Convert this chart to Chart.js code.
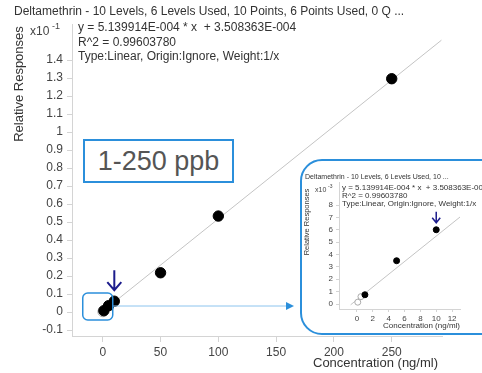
<!DOCTYPE html>
<html>
<head>
<meta charset="utf-8">
<script src="https://cdn.jsdelivr.net/npm/chart.js@4"></script>
<style>
  body { margin: 0; background: #fff; }
  #wrap { position: relative; width: 482px; height: 373px; overflow: hidden; }
  #main { position: absolute; left: 0; top: 0; }
  #range {
    position: absolute; left: 83px; top: 139px; width: 147px; height: 40px;
    border: 2px solid #2b8fdb; background: #fff; color: #555;
    font: 27px 'Liberation Sans', Arial, sans-serif; line-height: 40px; text-align: center;
  }
  #inset {
    position: absolute; left: 300px; top: 159px; width: 200px; height: 172px;
    border: 2px solid #2b8fdb; border-radius: 22px; background: #fff; overflow: hidden;
  }
  #insetChart { position: absolute; left: 0; top: 0; }
</style>
</head>
<body>
<div id="wrap">
  <canvas id="main" width="482" height="373"></canvas>
  <div id="range">1-250 ppb</div>
  <div id="inset"><canvas id="insetChart" width="180" height="172"></canvas></div>
</div>
<script>
// calibration levels used (ng/ml) and their relative responses
const concentrations = [1, 5, 10, 50, 100, 250];
const responses = [0.00075, 0.0035, 0.006, 0.0218, 0.0533, 0.1296];
// levels that were not used (open markers)
const excludedConc = [0.1, 0.5];
const excludedResp = [0.00015, 0.0006];
// fitted line end points, main chart and zoomed chart
const fitConc = [0, 293];
const fitResp = [0.00035, 0.1510];
const insetFitConc = [-0.8, 13];
const insetFitResp = [-0.00006, 0.00703];
// tick labels
const mainXTicks = [0, 50, 100, 150, 200, 250];
const mainYTicks = [-0.1, 0, 0.1, 0.2, 0.3, 0.4, 0.5, 0.6, 0.7, 0.8, 0.9, 1, 1.1, 1.2, 1.3, 1.4];
const insetXTicks = [0, 2, 4, 6, 8, 10, 12];
const insetYTicks = [0, 1, 2, 3, 4, 5, 6, 7, 8];

const titleText = 'Deltamethrin - 10 Levels, 6 Levels Used, 10 Points, 6 Points Used, 0 Q ...';
const insetTitleText = 'Deltamethrin - 10 Levels, 6 Levels Used, 10 ...';
const eqLines = ['y = 5.139914E-004 * x  + 3.508363E-004', 'R^2 = 0.99603780', 'Type:Linear, Origin:Ignore, Weight:1/x'];

Chart.defaults.font.family = "'Liberation Sans', Arial, sans-serif";
Chart.defaults.color = '#444';

const FONT = "'Liberation Sans', Arial, sans-serif";
const NAVY = '#1c1c8c';
const BLUE = '#2b8fdb';

function toPoints(xs, ys, factor) {
    return xs.map((x, i) => ({ x: x, y: ys[i] * factor }));
}

const overlayPlugin = {
    id: 'overlay',
    afterDraw(chart, args, opts) {
        const ctx = chart.ctx;
        const xs = chart.scales.x, ys = chart.scales.y;
        ctx.save();

        // callout box round the origin, with the pointer to the zoomed chart
        if (opts.callout) {
            const c = opts.callout;
            const x0 = xs.getPixelForValue(0), y0 = ys.getPixelForValue(0);
            const bx = x0 - 20, by = y0 - 19, bw = 30, bh = 27;
            ctx.strokeStyle = '#8cc4ee';
            ctx.lineWidth = 1;
            ctx.beginPath();
            ctx.moveTo(bx + bw, by + 13);
            ctx.lineTo(c.toX, by + 13);
            ctx.stroke();
            ctx.fillStyle = BLUE;
            ctx.beginPath();
            ctx.moveTo(c.toX, by + 9);
            ctx.lineTo(c.toX + 8, by + 13);
            ctx.lineTo(c.toX, by + 17);
            ctx.closePath();
            ctx.fill();
            ctx.strokeStyle = BLUE;
            ctx.lineWidth = 1.5;
            ctx.beginPath();
            ctx.roundRect(bx, by, bw, bh, 5);
            ctx.stroke();
        }

        // arrow pointing at the 10 ng/ml level
        if (opts.arrow) {
            const a = opts.arrow;
            const px = xs.getPixelForValue(a.x);
            const tip = ys.getPixelForValue(a.y) - a.gap;
            ctx.strokeStyle = NAVY;
            ctx.lineWidth = a.width;
            ctx.beginPath();
            ctx.moveTo(px, tip - a.len);
            ctx.lineTo(px, tip);
            ctx.moveTo(px - a.head, tip - a.head - 1);
            ctx.lineTo(px, tip);
            ctx.lineTo(px + a.head, tip - a.head - 1);
            ctx.stroke();
        }

        (opts.texts || []).forEach(t => {
            ctx.font = t.font;
            ctx.fillStyle = t.color || '#333';
            ctx.textAlign = t.align || 'left';
            ctx.textBaseline = 'middle';
            if (t.rotate) {
                ctx.save();
                ctx.translate(t.x, t.y);
                ctx.rotate(-Math.PI / 2);
                ctx.textAlign = 'center';
                ctx.fillText(t.text, 0, 0);
                ctx.restore();
            } else {
                ctx.fillText(t.text, t.x, t.y);
            }
        });
        ctx.restore();
    }
};

function axisOptions(min, max, ticks, size, tickLen, pad, fit) {
    return {
        type: 'linear',
        min: min,
        max: max,
        afterBuildTicks: s => { s.ticks = ticks.map(v => ({ value: v })); },
        afterFit: fit,
        grid: { drawOnChartArea: false, drawTicks: true, tickLength: tickLen, color: '#d4d4d4' },
        border: { color: '#d4d4d4' },
        ticks: {
            autoSkip: false,
            maxRotation: 0,
            padding: pad,
            font: { size: size },
            color: '#444',
            callback: v => String(Number(v.toFixed(1)))
        }
    };
}

function buildDatasets(factor, fitXs, fitYs, radius, openRadius) {
    return [
        {
            data: toPoints(concentrations, responses, factor),
            backgroundColor: '#000',
            borderColor: '#000',
            pointRadius: radius,
            order: 1
        },
        {
            data: toPoints(excludedConc, excludedResp, factor),
            backgroundColor: '#fff',
            borderColor: '#aaa',
            borderWidth: 1,
            pointRadius: openRadius,
            order: 2
        },
        {
            data: toPoints(fitXs, fitYs, factor),
            showLine: true,
            borderColor: '#c4c4c4',
            borderWidth: 1,
            pointRadius: 0,
            order: 3
        }
    ];
}

new Chart(document.getElementById('main'), {
    type: 'scatter',
    data: { datasets: buildDatasets(10, fitConc, fitResp, 5.2, 5) },
    options: {
        responsive: false,
        animation: false,
        layout: { padding: { top: 24, right: 40, left: 0, bottom: 0 } },
        plugins: {
            legend: { display: false },
            tooltip: { enabled: false },
            overlay: {
                callout: { toX: 286 },
                arrow: { x: 10, y: 0.06, gap: 11, len: 20, head: 7, width: 2 },
                texts: [
                    { text: titleText, x: 14, y: 12, font: '12px ' + FONT },
                    { text: 'x10', x: 30, y: 32, font: '12px ' + FONT, color: '#444' },
                    { text: '-1', x: 52, y: 27, font: '9px ' + FONT, color: '#444' },
                    { text: eqLines[0], x: 78, y: 28, font: '12px ' + FONT },
                    { text: eqLines[1], x: 78, y: 43, font: '12px ' + FONT },
                    { text: eqLines[2], x: 78, y: 57, font: '12px ' + FONT },
                    { text: 'Relative Responses', x: 19, y: 84, font: '13px ' + FONT, rotate: true },
                    { text: 'Concentration (ng/ml)', x: 438, y: 363, font: '13px ' + FONT, align: 'right' }
                ]
            }
        },
        scales: {
            x: axisOptions(-26.6, 293.5, mainXTicks, 12, 6, 3, s => { s.height = 37; }),
            y: axisOptions(-0.1333, 1.6, mainYTicks, 12, 5, 4, s => { s.width = 72; })
        }
    },
    plugins: [overlayPlugin]
});

new Chart(document.getElementById('insetChart'), {
    type: 'scatter',
    data: { datasets: buildDatasets(1000, insetFitConc, insetFitResp, 3, 3) },
    options: {
        responsive: false,
        animation: false,
        layout: { padding: { top: 21, right: 22, left: 0, bottom: 0 } },
        plugins: {
            legend: { display: false },
            tooltip: { enabled: false },
            overlay: {
                arrow: { x: 10, y: 6, gap: 7, len: 11, head: 4, width: 1.5 },
                texts: [
                    { text: insetTitleText, x: 3, y: 16, font: '7px ' + FONT },
                    { text: 'x10', x: 13, y: 29, font: '7px ' + FONT, color: '#444' },
                    { text: '-3', x: 26, y: 26, font: '5px ' + FONT, color: '#444' },
                    { text: eqLines[0], x: 40, y: 27, font: '8px ' + FONT },
                    { text: eqLines[1], x: 40, y: 35, font: '8px ' + FONT },
                    { text: eqLines[2], x: 40, y: 43, font: '8px ' + FONT },
                    { text: 'Relative Responses', x: 5, y: 61, font: '7.5px ' + FONT, rotate: true },
                    { text: 'Concentration (ng/ml)', x: 158, y: 165, font: '8px ' + FONT, align: 'right' }
                ]
            }
        },
        scales: {
            x: axisOptions(-2.27, 13.0, insetXTicks, 8, 3, 2, s => { s.height = 24; }),
            y: axisOptions(-0.4, 9.86, insetYTicks, 8, 3, 3, s => { s.width = 37; })
        }
    },
    plugins: [overlayPlugin]
});
</script>
</body>
</html>
